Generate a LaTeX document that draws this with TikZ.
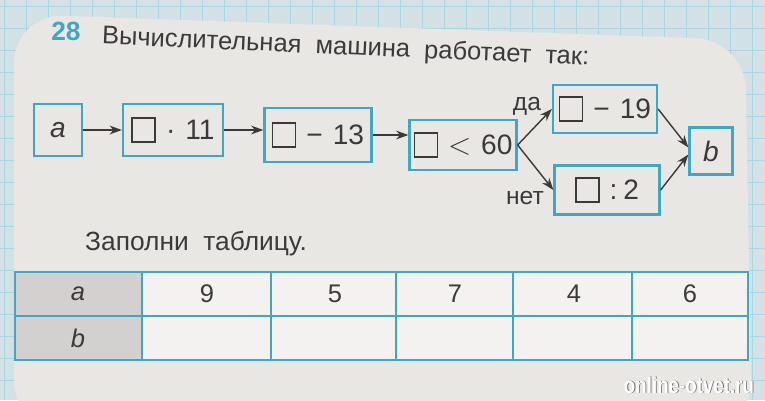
\documentclass[tikz,border=0pt]{standalone}
\usepackage{fontspec}
\setmainfont{Liberation Sans}
\usetikzlibrary{arrows.meta}

\definecolor{paper}{HTML}{E9E7E4}
\definecolor{bookblue}{HTML}{3FA7C6}
\definecolor{gridblue}{HTML}{A9D6E4}
\definecolor{ink}{HTML}{3A3A3A}
\definecolor{cellgray}{HTML}{D2D1CF}

\tikzset{
  opbox/.style={draw=bookblue, line width=1.3pt, fill=paper, text=ink, inner sep=0pt,
    font=\fontsize{16}{16}\selectfont},
  flow/.style={-{Stealth[length=7pt,width=5pt]}, ink, line width=0.8pt},
  branch/.style={text=ink, font=\fontsize{14}{14}\selectfont},
  cell/.style={text=ink, font=\fontsize{14.5}{14.5}\selectfont},
}
\newcommand{\blank}{\tikz[x=1cm,y=1cm,baseline=0pt]\draw[ink, line width=0.9pt] (0,-0.05) rectangle (0.46,0.42);}
\newcommand{\gap}{\hspace{0.2cm}}

\begin{document}
\begin{tikzpicture}[x=0.02cm,y=-0.02cm]
    \useasboundingbox (0,0) rectangle (765,400);

    % squared paper and page
    \fill[gridblue!35!paper] (0,0) rectangle (765,400);
    \foreach \gx in {4,26,...,770} \draw[gridblue, line width=0.5pt] (\gx,0) -- (\gx,400);
    \foreach \gy in {6,28,...,400} \draw[gridblue, line width=0.5pt] (0,\gy) -- (765,\gy);
    \fill[paper, rounded corners=28] (14,14) -- (745,40) -- (752,430) -- (14,430) -- cycle;

    \node[text=bookblue, font=\bfseries\fontsize{15}{15}\selectfont] (num) at (66,31) {28};
    \node[anchor=west, text=ink, rotate=-2.5, font=\fontsize{14.5}{14.5}\selectfont] (title) at (96,37)
        {Вычислительная\ \ машина\ \ работает\ \ так:};

    % the machine
    \node[opbox, minimum width=0.96cm, minimum height=1.04cm] (a) at (58,130) {\itshape a};
    \node[opbox, minimum width=2cm, minimum height=1.04cm] (mul) at (173,130) {\blank\gap·\gap11};
    \node[opbox, minimum width=2.14cm, minimum height=1.08cm] (sub) at (318,135) {\blank\gap−\gap13};
    \node[opbox, minimum width=2.14cm, minimum height=1cm] (cmp) at (463,145) {\blank\gap$<$\gap60};
    \node[opbox, minimum width=2.08cm, minimum height=0.96cm] (minus) at (605,109) {\blank\gap−\gap19};
    \node[opbox, minimum width=2.1cm, minimum height=0.98cm] (div) at (607,190) {\blank\gap:\hspace{0.12cm}2};
    \node[opbox, minimum width=0.86cm, minimum height=0.94cm] (b) at (711,151) {\itshape b};

    \draw[flow] (a) -- (mul);
    \draw[flow] (mul.east) -- (sub.west |- mul.east);
    \draw[flow] (sub.east) -- (cmp.west |- sub.east);
    \draw[flow] (cmp.east) -- (minus.west);
    \draw[flow] (cmp.east) -- (div.west);
    \draw[flow] (minus.east) -- ([yshift=2pt]b.west);
    \draw[flow] (div.east) -- ([yshift=-2pt]b.west);

    \node[branch] (yes) at (527,106) {да};
    \node[branch] (no) at (525,198) {нет};

    % table
    \node[anchor=center, text=ink, font=\fontsize{15}{15}\selectfont] (task) at (196,244)
        {Заполни\ \ таблицу.};
    \fill[paper!55!white] (15,272) rectangle (748,360);
    \fill[cellgray] (15,272) rectangle (142,360);
    \draw[bookblue, line width=1.3pt] (15,272) rectangle (748,360);
    \draw[bookblue, line width=1.3pt] (15,316) -- (748,316);
    \foreach \cx in {142,271,396,513,632}
        \draw[bookblue, line width=1.3pt] (\cx,272) -- (\cx,360);

    \node[cell] (ta) at (78,294) {\itshape a};
    \node[cell] (tb) at (78,338) {\itshape b};
    \node[cell] (t1) at (207,294) {9};
    \node[cell] (t2) at (335,294) {5};
    \node[cell] (t3) at (455,294) {7};
    \node[cell] (t4) at (574,294) {4};
    \node[cell] (t5) at (690,294) {6};

    % watermark
    \node[text=black!60, font=\bfseries\fontsize{13}{13}\selectfont] at (689.8,385.8)
        {\scalebox{0.82}[1]{online-otvet.ru}};
    \node[text=white, font=\bfseries\fontsize{13}{13}\selectfont] (mark) at (689,385)
        {\scalebox{0.82}[1]{online-otvet.ru}};
\end{tikzpicture}
\end{document}
